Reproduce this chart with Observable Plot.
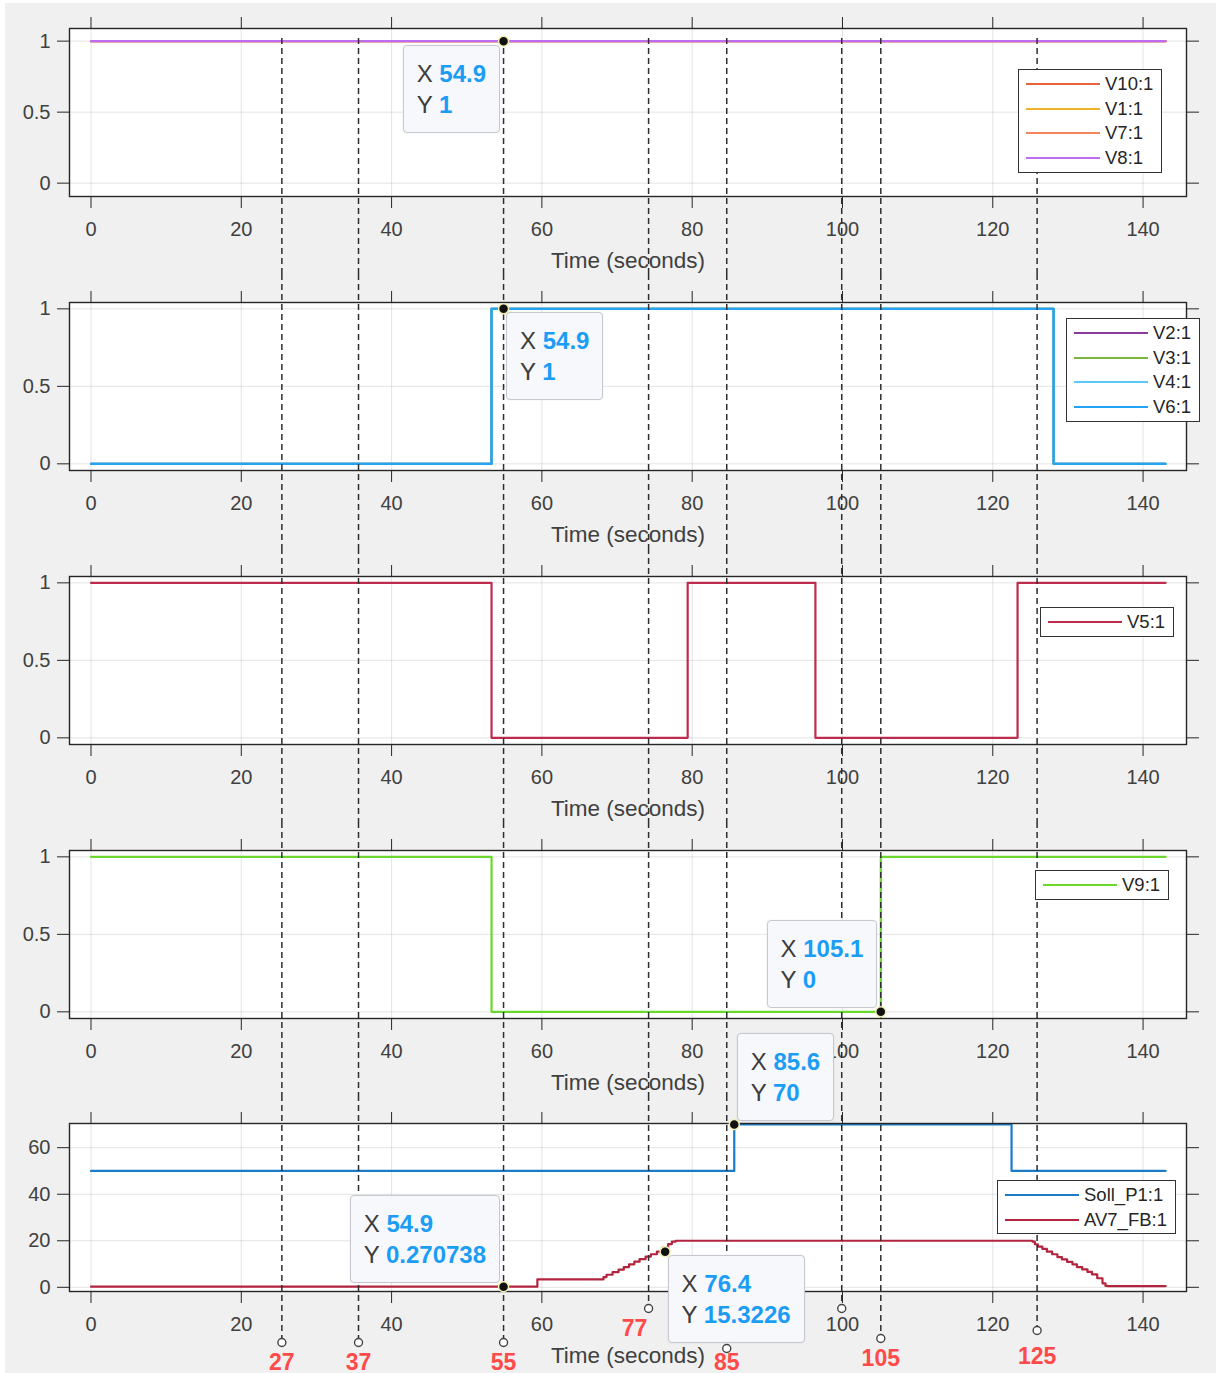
<!DOCTYPE html>
<html>
<head>
<meta charset="utf-8">
<script src="https://cdn.jsdelivr.net/npm/d3@7"></script>
<script src="https://cdn.jsdelivr.net/npm/@observablehq/plot@0.6"></script>
<style>
html,body{margin:0;padding:0;background:#ffffff;}
#bg{position:absolute;left:5px;top:3px;width:1211px;height:1370px;background:#f0f0f0;}
#wrap{position:absolute;left:0;top:0;width:1216px;height:1373px;}
#wrap svg{position:absolute;left:0;}
.legend{position:absolute;background:#fff;border:1.5px solid #333;font-family:"Liberation Sans",Arial,sans-serif;font-size:18.5px;color:#262626;padding:1.5px 8px 1.5px 7px;white-space:nowrap;}
.legend .row{height:24.7px;display:flex;align-items:center;}
.legend .sw{display:inline-block;width:74px;height:0;border-top:2.6px solid;margin-right:5px;}
.tip{position:absolute;background:#f7f8fb;border:1px solid #c5c8ce;border-radius:4px;font-family:"Liberation Sans",Arial,sans-serif;font-size:24px;color:#3c3c3c;padding:12px 13px;white-space:nowrap;box-shadow:0 0 2px rgba(0,0,0,0.08);}
.tip div{height:31px;line-height:31px;}
.tip b{color:#1b9df5;font-weight:bold;}
</style>
</head>
<body>
<div id="bg"></div>
<div id="wrap"></div>
<script>
// ---------------- DATA ----------------
const xTicks = [0, 20, 40, 60, 80, 100, 120, 140];
const yTicksBinary = [0, 0.5, 1];
const yTicksPressure = [0, 20, 40, 60];
const xLabel = "Time (seconds)";

// Panel 1
const p1Names = ["V10:1", "V1:1", "V7:1", "V8:1"];
const p1Colors = ["#e8623c", "#eeb32a", "#f4845a", "#bf6cf5"];
const timeP1 = [0, 143];
const v10 = [1, 1];
const v1 = [1, 1];
const v7 = [1, 1];
const v8 = [1, 1];

// Panel 2
const p2Names = ["V2:1", "V3:1", "V4:1", "V6:1"];
const p2Colors = ["#8a3a9a", "#7ab540", "#5cc8f5", "#22a3f3"];
const timeP2 = [0, 53.3, 128.1, 143];
const v2 = [0, 1, 0, 0];
const v3 = [0, 1, 0, 0];
const v4 = [0, 1, 0, 0];
const v6 = [0, 1, 0, 0];

// Panel 3
const p3Names = ["V5:1"];
const p3Colors = ["#bd2c4c"];
const timeV5 = [0, 53.3, 79.4, 96.4, 123.3, 143];
const v5 = [1, 0, 1, 0, 1, 1];

// Panel 4
const p4Names = ["V9:1"];
const p4Colors = ["#6ad82c"];
const timeV9 = [0, 53.3, 105.1, 143];
const v9 = [1, 0, 1, 1];

// Panel 5
const p5Names = ["Soll_P1:1", "AV7_FB:1"];
const p5Colors = ["#1a7cc8", "#b3243f"];
const timeSoll = [0, 85.6, 122.5, 143];
const soll = [50, 70, 50, 50];
const timeAV7 = [0, 59.4, 68.2, 68.6, 69.4, 70.2, 70.9, 71.6, 72.3, 73.0, 73.8, 74.5, 75.3, 76.0, 76.8, 77.3, 77.8,
  125.3, 125.6, 126.0, 126.6, 127.2, 127.9, 128.6, 129.2, 129.9, 130.6, 131.2, 131.9, 132.6, 133.2, 133.9, 134.6, 135.0, 135.3, 143];
const av7 = [0.27, 3.4, 4.4, 5.4, 6.5, 7.6, 8.7, 9.9, 11.0, 12.1, 13.2, 14.2, 15.32, 17.0, 18.6, 19.6, 20,
  19.6, 18.5, 17.5, 16.5, 15.3, 14.2, 13.0, 12.0, 10.9, 9.9, 8.7, 7.7, 6.6, 5.6, 3.9, 1.7, 0.6, 0.5, 0.5];

// Data tips
const tipPanel = [0, 1, 3, 4, 4, 4];
const tipX = [54.9, 54.9, 105.1, 85.6, 54.9, 76.4];
const tipY = [1, 1, 0, 70, 0.270738, 15.3226];

// Annotation lines (hand-drawn markers)
const annotX = [25.4, 35.6, 54.9, 74.2, 84.6, 99.9, 105.1, 125.9];
const annotLabel = ["27", "37", "55", "77", "85", "", "105", "125"];

// ---------------- LAYOUT / STYLE ----------------
const W = 1216;
const FONT = '"Liberation Sans", Arial, Helvetica, sans-serif';
const xDomain = [-2.86, 145.78];
const panelTops = [0, 274, 548, 822, 1095];
const panelHeights = [274, 274, 274, 273, 278];
const frameTop = 28, frameBottom = 196;
const yDomains = [[-0.094, 1.089], [-0.043, 1.041], [-0.043, 1.041], [-0.043, 1.041], [-1.8, 70.4]];
const tipPlace = ["bl", "br", "tl", "tr", "tl", "br"];
const hiddenXTickLabels = [[], [], [], [], [80]]; // covered by a data tip in the reference
const annotDrop = [51, 51, 51, 17, 57, 17, 47, 39];
const annotLabelDy = [71, 71, 71, 37, 71, 0, 67, 65];
const annotLabelDx = [0, 0, 0, -14, 0, 0, 0, 0];
const legendPos = [[1018, 69], [1066, 318], [1040, 607], [1035, 870], [997, 1180]];

const zip = (t, v) => t.map((d, i) => ({t: d, v: v[i]}));

const panels = [
  {names: p1Names, colors: p1Colors, series: [zip(timeP1, v10), zip(timeP1, v1), zip(timeP1, v7), zip(timeP1, v8)], yTicks: yTicksBinary},
  {names: p2Names, colors: p2Colors, series: [zip(timeP2, v2), zip(timeP2, v3), zip(timeP2, v4), zip(timeP2, v6)], yTicks: yTicksBinary},
  {names: p3Names, colors: p3Colors, series: [zip(timeV5, v5)], yTicks: yTicksBinary},
  {names: p4Names, colors: p4Colors, series: [zip(timeV9, v9)], yTicks: yTicksBinary},
  {names: p5Names, colors: p5Colors, series: [zip(timeSoll, soll), zip(timeAV7, av7)], yTicks: yTicksPressure}
];

const wrap = document.getElementById("wrap");
const dashStyle = {stroke: "#2e2e2e", strokeWidth: 1.5, strokeDasharray: "6,4"};

panels.forEach((p, pi) => {
  const height = panelHeights[pi];
  const mb = height - frameBottom;
  const hidden = hiddenXTickLabels[pi];
  const tips = tipX.map((x, i) => ({x, y: tipY[i], panel: tipPanel[i], place: tipPlace[i]})).filter(d => d.panel === pi);
  const marks = [
    Plot.frame({fill: "white", stroke: null}),
    Plot.gridX({ticks: xTicks, stroke: "#000", strokeOpacity: 0.11}),
    Plot.gridY({ticks: p.yTicks, stroke: "#000", strokeOpacity: 0.11}),
    ...p.series.map((s, si) => Plot.line(s, {x: "t", y: "v", curve: "step-after", stroke: p.colors[si], strokeWidth: 2.2})),
    Plot.frame({stroke: "#262626", strokeWidth: 1.4}),
    Plot.axisX({anchor: "bottom", ticks: xTicks, tickSize: 12, tickPadding: 13, tickFormat: d => hidden.includes(d) ? "" : String(d), label: null, stroke: "#262626", fill: "#404040"}),
    Plot.axisX({anchor: "top", ticks: xTicks, tickSize: 12, tickFormat: () => "", label: null, stroke: "#262626"}),
    Plot.axisY({anchor: "left", ticks: p.yTicks, tickSize: 12, tickPadding: 7, tickFormat: d => String(d), label: null, stroke: "#262626", fill: "#404040"}),
    Plot.axisY({anchor: "right", ticks: p.yTicks, tickSize: 12, tickFormat: () => "", label: null, stroke: "#262626"}),
    Plot.text([xLabel], {frameAnchor: "bottom", dy: 64, lineAnchor: "middle", fontSize: 22.5, fill: "#404040"})
  ];
  // annotation dashed lines
  if (pi < 4) {
    marks.push(Plot.ruleX(annotX, {...dashStyle, insetTop: pi === 0 ? 10 : -frameTop, insetBottom: -mb}));
  } else {
    annotX.forEach((x, i) => {
      const ann = [{x, label: annotLabel[i]}];
      marks.push(Plot.ruleX(ann, {x: "x", ...dashStyle, insetTop: -frameTop, insetBottom: -(annotDrop[i] - 4)}));
      marks.push(Plot.dot(ann, {x: "x", frameAnchor: "bottom", dy: annotDrop[i], r: 4, stroke: "#444", strokeWidth: 1.4, fill: "white"}));
      if (annotLabel[i]) marks.push(Plot.text(ann, {x: "x", text: "label", frameAnchor: "bottom", dy: annotLabelDy[i], dx: annotLabelDx[i], lineAnchor: "middle", fontSize: 23, fontWeight: "bold", fill: "#ff4a4a"}));
    });
  }
  marks.push(Plot.dot(tips, {x: "x", y: "y", r: 5, fill: "#111", stroke: "#f3efb5", strokeWidth: 1.5}));

  const chart = Plot.plot({
    width: W, height,
    marginTop: frameTop, marginBottom: mb, marginLeft: 69, marginRight: 30,
    x: {domain: xDomain},
    y: {domain: yDomains[pi]},
    style: {background: "transparent", fontFamily: FONT, fontSize: "20px", color: "#333", overflow: "visible"},
    marks
  });
  chart.style.top = panelTops[pi] + "px";
  wrap.appendChild(chart);

  // data tips positioned through the plot's scales
  const sx = chart.scale("x"), sy = chart.scale("y");
  tips.forEach(t => {
    const px = sx.apply(t.x), py = sy.apply(t.y) + panelTops[pi];
    const box = document.createElement("div");
    box.className = "tip";
    box.innerHTML = `<div>X <b>${String(t.x)}</b></div><div>Y <b>${String(t.y)}</b></div>`;
    const g = 3;
    if (t.place[1] === "l") box.style.right = (W - (px - g)) + "px"; else box.style.left = (px + g) + "px";
    if (t.place[0] === "b") box.style.top = (py + g + 1) + "px"; else box.style.bottom = (1373 - (py - g)) + "px";
    wrap.appendChild(box);
  });

  // legend
  const lg = document.createElement("div");
  lg.className = "legend";
  lg.style.left = legendPos[pi][0] + "px";
  lg.style.top = legendPos[pi][1] + "px";
  lg.innerHTML = p.names.map((n, i) => `<div class="row"><span class="sw" style="border-color:${p.colors[i]}"></span>${n}</div>`).join("");
  wrap.appendChild(lg);
});
</script>
</body>
</html>
